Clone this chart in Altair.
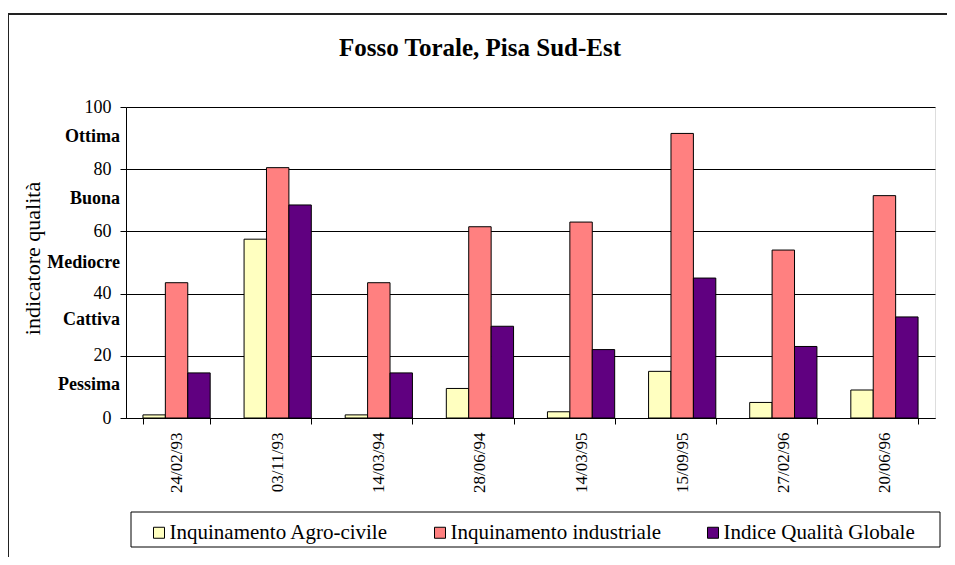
import altair as alt
import pandas as pd

# ---- data ----
dates = ["24/02/93", "03/11/93", "14/03/94", "28/06/94",
         "14/03/95", "15/09/95", "27/02/96", "20/06/96"]
agro = [1, 57.5, 1, 9.5, 2, 15, 5, 9]
industriale = [43.5, 80.5, 43.5, 61.5, 63, 91.5, 54, 71.5]
globale = [14.5, 68.5, 14.5, 29.5, 22, 45, 23, 32.5]

series_names = ["Inquinamento Agro-civile", "Inquinamento industriale", "Indice Qualità Globale"]
series_colors = ["#FFFFC0", "#FF8080", "#600080"]

quality_labels = ["Ottima", "Buona", "Mediocre", "Cattiva", "Pessima"]
quality_positions = [90.4, 70.4, 50, 31.5, 10.7]

y_ticks = [0, 20, 40, 60, 80, 100]
chart_title = "Fosso Torale, Pisa Sud-Est"
y_title = "indicatore qualità"

FONT = "Liberation Serif"

rows = []
for i, d in enumerate(dates):
    for name, vals in zip(series_names, [agro, industriale, globale]):
        rows.append({"data": d, "serie": name, "valore": vals[i]})
df = pd.DataFrame(rows)

yscale = alt.Scale(domain=[0, 100], nice=False, zero=True)
yaxis = alt.Axis(values=y_ticks, title=y_title, grid=True, gridColor="black",
                 gridOpacity=1, gridWidth=1, tickSize=6, tickColor="black",
                 domainColor="black", labelFont=FONT, labelFontSize=18,
                 labelColor="black", labelPadding=9,
                 titleFont=FONT, titleFontSize=22, titleFontWeight="normal",
                 titleColor="black", titleX=-94, titleY=151, titleAngle=270,
                 titleAlign="center", titleBaseline="middle")

bars = alt.Chart(df).mark_bar(stroke="black", strokeWidth=1, opacity=1).encode(
    x=alt.X("data:N", sort=dates, title=None,
            scale=alt.Scale(paddingInner=0.335, paddingOuter=0.1675),
            axis=alt.Axis(labelAngle=-90, labelFont=FONT, labelFontSize=17, labelColor="black",
                          tickBand="extent", tickSize=6, tickColor="black", domainColor="black",
                          labelPadding=8, grid=False)),
    xOffset=alt.XOffset("serie:N", sort=series_names,
                        scale=alt.Scale(domain=series_names, paddingInner=0, paddingOuter=0)),
    y=alt.Y("valore:Q", scale=yscale, axis=yaxis),
    color=alt.Color("serie:N", sort=series_names,
                    scale=alt.Scale(domain=series_names, range=series_colors),
                    legend=alt.Legend(orient="none", legendX=22.5, legendY=415, direction="horizontal",
                                      title=None, labelFont=FONT, labelFontSize=21, labelColor="black",
                                      symbolType="square", symbolSize=121, symbolStrokeColor="black",
                                      symbolStrokeWidth=1, symbolOpacity=1, labelOffset=0,
                                      columnPadding=41, labelLimit=500, padding=0)),
)

qual_df = pd.DataFrame({"label": quality_labels, "valore": quality_positions})
qual = alt.Chart(qual_df).mark_text(align="right", baseline="middle", font=FONT, fontSize=18,
                                    fontWeight="bold", color="black").encode(
    x=alt.value(-6),
    y=alt.Y("valore:Q", scale=yscale, axis=yaxis),
    text="label:N",
)

title_df = pd.DataFrame({"t": [chart_title]})
title = alt.Chart(title_df).mark_text(align="center", baseline="middle", font=FONT, fontSize=25,
                                      fontWeight="bold", color="black").encode(
    x=alt.value(354), y=alt.value(-59), text="t:N")

dummy = pd.DataFrame({"k": [0]})
frame_left = alt.Chart(dummy).mark_rule(color="#222222", strokeWidth=2).encode(
    x=alt.value(-118), y=alt.value(-93), y2=alt.value(460))
frame_top = alt.Chart(dummy).mark_rule(color="#222222", strokeWidth=2).encode(
    x=alt.value(-118), x2=alt.value(830), y=alt.value(-93))
legend_box = alt.Chart(dummy).mark_rect(fill="white", stroke="black", strokeWidth=1).encode(
    x=alt.value(5), x2=alt.value(814), y=alt.value(405), y2=alt.value(440))

chart = alt.layer(frame_left, frame_top, legend_box, bars, qual, title).properties(
    width=809, height=311,
    autosize=alt.AutoSizeParams(type="none"),
    padding={"left": 118, "top": 99, "right": 12, "bottom": 139},
).configure_view(stroke="#808080", strokeWidth=1).configure(background="white")

chart.save("out.html", embed_options={"renderer": "svg", "actions": False})
